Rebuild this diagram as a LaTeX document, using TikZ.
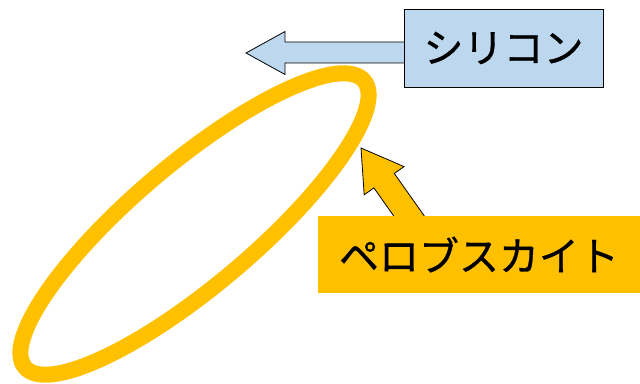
\documentclass[tikz,border=0pt]{standalone}
\usepackage{fontspec}
\newfontfamily\jpfont[FakeBold=0.8]{Noto Sans CJK JP}
\usetikzlibrary{shapes.geometric,calc}
\definecolor{pvorange}{HTML}{FFC000}
\definecolor{siblue}{HTML}{BDD7EE}
\tikzset{
  label box/.style={inner sep=0pt, font=\jpfont\fontsize{40}{44}\selectfont, text=black},
  blockarrow/.style={draw=black, line width=0.8pt, line join=miter},
  ringstyle/.style={ellipse, draw=pvorange, line width=16pt, inner sep=0pt}
}
\begin{document}
\begin{tikzpicture}[x=1pt,y=1pt]
\useasboundingbox (0,0) rectangle (640,383);
% silicon arrow (drawn under the box)
\coordinate (sitip) at (246,330);
\draw[blockarrow, fill=siblue] (sitip) -- (285,351.5) -- (285,341) -- (410,341) -- (410,320) -- (285,320) -- (285,308.5) -- cycle;
\node[label box, fill=siblue, draw=black, line width=0.8pt, minimum width=199pt, minimum height=78pt] (si) at (503.5,335) {シリコン};
% perovskite arrow
\coordinate (pvtip) at (361,235);
\draw[blockarrow, fill=pvorange] (pvtip) -- (404,216.4) -- (394.3,209.5) -- (429.3,160) -- (398.7,160) -- (373.9,195.1) -- (364.2,188.2) -- cycle;
\node[label box, fill=pvorange, minimum width=322pt, minimum height=77pt] (pv) at (479,128.5) {ペロブスカイト};
% perovskite ring
\node[ringstyle, minimum width=444pt, minimum height=122pt, rotate=40.2] (ring) at (194.5,159) {};
\end{tikzpicture}
\end{document}
